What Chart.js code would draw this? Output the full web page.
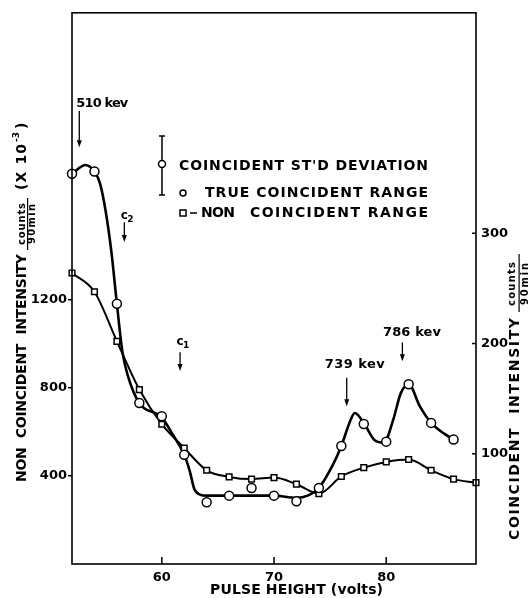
<!DOCTYPE html>
<html>
<head>
<meta charset="utf-8">
<script src="https://cdn.jsdelivr.net/npm/chart.js@4"></script>
<style>
    html, body { margin: 0; padding: 0; background: #fff; }
</style>
</head>
<body>
<canvas id="chart" width="531" height="598"></canvas>
<script>
// Non coincident range (squares, left axis)
const nonCoincX = [52, 54, 56, 58, 60, 62, 64, 66, 68, 70, 72, 74, 76, 78, 80, 82, 84, 86, 88];
const nonCoincCounts = [1320, 1235, 1010, 791, 634, 526, 425, 395, 385, 392, 362, 319, 397, 437, 463, 474, 425, 385, 369];

// True coincident range (circles, right axis)
const coincX = [52, 54, 56, 58, 60, 62, 64, 66, 68, 70, 72, 74, 76, 78, 80, 82, 84, 86];
const coincCounts = [354, 356, 236, 146, 134, 99, 56, 62, 69, 62, 57, 69, 107, 127, 111, 163, 128, 113];

// the hand drawn curve through the circles
const coincCurveX = [52, 53.2, 54, 54.5, 55, 55.5, 56, 56.5, 57, 58, 60, 61, 62, 62.5, 62.9, 63.4, 64, 66, 70, 72, 73, 74, 75.3, 76, 76.8, 77.2, 78, 79, 79.8, 80.6, 81.3, 82, 83, 84, 85.2, 86];
const coincCurve = [354, 362, 356, 345, 320, 284, 236, 192, 170, 146, 133, 117, 99, 84, 68, 63, 62, 62, 62, 60, 62, 69, 91, 107, 130, 137, 128, 112, 110, 130, 155, 163, 143, 128, 118, 113];

// tick labels
const xTicks = [60, 70, 80];
const leftTicks = [400, 800, 1200];
const rightTicks = [100, 200, 300];

// peak markers (x in volts, y on the coincident axis)
const peakNotes = [
    { text: '510 kev', x: 54.7, y: 418, w: 52, arrowX: 52.65, from: 411, to: 378 },
    { text: '739 kev', x: 77.2, y: 181, w: 60, arrowX: 76.48, from: 169, to: 143 },
    { text: '786 kev', x: 82.3, y: 210, w: 58, arrowX: 81.44, from: 201, to: 184 }
];
const cutNotes = [
    { sub: '2', arrowX: 56.66, y: 315, from: 310, to: 292 },
    { sub: '1', arrowX: 61.63, y: 201, from: 192, to: 175 }
];

const FONT = '"DejaVu Sans", sans-serif';

function pts(xs, ys) {
    return xs.map(function (x, i) { return { x: x, y: ys[i] }; });
}

// draw text stretched with letter spacing to a given width
function spaced(ctx, txt, x, y, w) {
    ctx.letterSpacing = '0px';
    var nat = ctx.measureText(txt).width;
    var n = Array.from(txt).length;
    if (n > 1) ctx.letterSpacing = ((w - nat) / (n - 1)) + 'px';
    ctx.textAlign = 'left';
    ctx.fillText(txt, x, y);
    ctx.letterSpacing = '0px';
}

function upText(ctx, txt, cx, yBottom, len) {
    ctx.save();
    ctx.translate(cx, yBottom);
    ctx.rotate(-Math.PI / 2);
    spaced(ctx, txt, 0, 0, len);
    ctx.restore();
}

function arrow(ctx, x, y1, y2) {
    ctx.beginPath();
    ctx.moveTo(x, y1);
    ctx.lineTo(x, y2 - 5);
    ctx.stroke();
    ctx.beginPath();
    ctx.moveTo(x - 2.5, y2 - 7);
    ctx.lineTo(x + 2.5, y2 - 7);
    ctx.lineTo(x, y2);
    ctx.closePath();
    ctx.fill();
}

const extras = {
    id: 'extras',
    afterDraw: function (chart) {
        var ctx = chart.ctx;
        var a = chart.chartArea;
        var sx = chart.scales.x, sr = chart.scales.yR;
        ctx.save();
        ctx.strokeStyle = '#000';
        ctx.fillStyle = '#000';

        // frame
        ctx.lineWidth = 1.6;
        ctx.strokeRect(a.left, a.top, a.right - a.left, a.bottom - a.top);

        // inward ticks on bottom and right axes
        ctx.lineWidth = 1.5;
        xTicks.forEach(function (v) {
            var px = sx.getPixelForValue(v);
            ctx.beginPath(); ctx.moveTo(px, a.bottom); ctx.lineTo(px, a.bottom - 7); ctx.stroke();
        });
        rightTicks.forEach(function (v) {
            var py = sr.getPixelForValue(v);
            ctx.beginPath(); ctx.moveTo(a.right, py); ctx.lineTo(a.right - 4, py); ctx.stroke();
        });

        ctx.textBaseline = 'middle';

        // legend
        ctx.lineWidth = 1.5;
        ctx.beginPath(); ctx.moveTo(162, 136); ctx.lineTo(162, 195); ctx.stroke();
        ctx.beginPath(); ctx.moveTo(159, 136); ctx.lineTo(165, 136); ctx.moveTo(159, 195); ctx.lineTo(165, 195); ctx.stroke();
        ctx.beginPath(); ctx.arc(162, 164, 3.5, 0, Math.PI * 2); ctx.fillStyle = '#fff'; ctx.fill(); ctx.stroke();
        ctx.fillStyle = '#000';
        ctx.beginPath(); ctx.arc(183, 193, 3, 0, Math.PI * 2); ctx.stroke();
        ctx.strokeRect(180, 210, 6, 6);
        ctx.beginPath(); ctx.moveTo(190, 213); ctx.lineTo(197, 213); ctx.stroke();
        ctx.font = 'bold 14px ' + FONT;
        spaced(ctx, "COINCIDENT ST'D DEVIATION", 179, 166, 249);
        spaced(ctx, 'TRUE COINCIDENT RANGE', 205, 193, 223);
        spaced(ctx, 'NON', 201, 213, 34);
        spaced(ctx, 'COINCIDENT RANGE', 250, 213, 178);

        // peak labels and arrows
        ctx.lineWidth = 1.3;
        peakNotes.forEach(function (n) {
            ctx.font = 'bold 13px ' + FONT;
            var px = sx.getPixelForValue(n.x);
            spaced(ctx, n.text, px - n.w / 2, sr.getPixelForValue(n.y), n.w);
            arrow(ctx, sx.getPixelForValue(n.arrowX), sr.getPixelForValue(n.from), sr.getPixelForValue(n.to));
        });
        cutNotes.forEach(function (n) {
            var px = sx.getPixelForValue(n.arrowX);
            var py = sr.getPixelForValue(n.y);
            ctx.textAlign = 'center';
            ctx.font = 'bold 12px ' + FONT;
            ctx.fillText('c', px, py - 1);
            ctx.font = 'bold 9px ' + FONT;
            ctx.fillText(n.sub, px + 6, py + 3);
            arrow(ctx, px, sr.getPixelForValue(n.from), sr.getPixelForValue(n.to));
        });

        // x axis title
        ctx.font = 'bold 14px ' + FONT;
        spaced(ctx, 'PULSE HEIGHT (volts)', 210, 590, 173);

        // left axis title
        upText(ctx, 'NON  COINCIDENT  INTENSITY', 22, 482, 228);
        ctx.font = 'bold 10px ' + FONT;
        upText(ctx, 'counts', 22.5, 245, 42);
        upText(ctx, '90min', 32, 244, 40);
        ctx.fillRect(27, 198, 1.2, 52);
        ctx.font = 'bold 14px ' + FONT;
        upText(ctx, '(X 10', 22, 190, 46);
        ctx.font = 'bold 9px ' + FONT;
        upText(ctx, '-3', 17, 142, 10);
        ctx.font = 'bold 14px ' + FONT;
        upText(ctx, ')', 22, 129, 5);

        // right axis title
        upText(ctx, 'COINCIDENT  INTENSITY', 515, 540, 222);
        ctx.font = 'bold 10px ' + FONT;
        upText(ctx, 'counts', 512.5, 306, 44);
        upText(ctx, '90min', 525, 305, 42);
        ctx.fillRect(518.5, 254, 1.2, 58);

        ctx.restore();
    }
};

var tickFont = { family: FONT, size: 13, weight: 'bold' };
function plain(v) { return String(v); }

new Chart(document.getElementById('chart'), {
    type: 'scatter',
    data: {
        datasets: [
            {
                label: 'TRUE COINCIDENT RANGE',
                data: pts(coincX, coincCounts),
                yAxisID: 'yR',
                showLine: false,
                pointStyle: 'circle',
                pointRadius: 4.5,
                pointBackgroundColor: '#fff',
                pointBorderColor: '#000',
                pointBorderWidth: 1.5,
                clip: false
            },
            {
                label: 'NON COINCIDENT RANGE',
                type: 'line',
                data: pts(nonCoincX, nonCoincCounts),
                yAxisID: 'yL',
                borderColor: '#000',
                borderWidth: 2,
                cubicInterpolationMode: 'monotone',
                pointStyle: 'rect',
                pointRadius: 4,
                pointBackgroundColor: '#fff',
                pointBorderColor: '#000',
                pointBorderWidth: 1.5,
                clip: false
            },
            {
                label: 'coincident curve',
                type: 'line',
                data: pts(coincCurveX, coincCurve),
                yAxisID: 'yR',
                borderColor: '#000',
                borderWidth: 2.6,
                cubicInterpolationMode: 'monotone',
                pointRadius: 0,
                clip: false
            }
        ]
    },
    options: {
        responsive: false,
        animation: false,
        devicePixelRatio: 1,
        layout: { padding: { top: 12, left: 0, right: 0, bottom: 0 } },
        plugins: { legend: { display: false }, tooltip: { enabled: false } },
        scales: {
            x: {
                type: 'linear',
                position: 'bottom',
                min: 52,
                max: 88,
                afterBuildTicks: function (s) { s.ticks = xTicks.map(function (v) { return { value: v }; }); },
                afterFit: function (s) { s.height = 34; },
                grid: { display: false, drawTicks: false },
                border: { display: false },
                ticks: { color: '#000', font: tickFont, padding: 6, callback: plain }
            },
            yL: {
                type: 'linear',
                position: 'left',
                min: 0,
                max: 2500,
                afterBuildTicks: function (s) { s.ticks = leftTicks.map(function (v) { return { value: v }; }); },
                afterFit: function (s) { s.width = 72; },
                grid: { display: true, drawOnChartArea: false, drawTicks: true, tickLength: 4, color: '#000', lineWidth: 1.5 },
                border: { display: false },
                ticks: { color: '#000', font: tickFont, padding: 1, callback: plain }
            },
            yR: {
                type: 'linear',
                position: 'right',
                min: 0,
                max: 500,
                afterBuildTicks: function (s) { s.ticks = rightTicks.map(function (v) { return { value: v }; }); },
                afterFit: function (s) { s.width = 55; },
                grid: { display: false, drawTicks: false },
                border: { display: false },
                ticks: { color: '#000', font: tickFont, padding: 5, callback: plain }
            }
        }
    },
    plugins: [extras]
});
</script>
</body>
</html>
